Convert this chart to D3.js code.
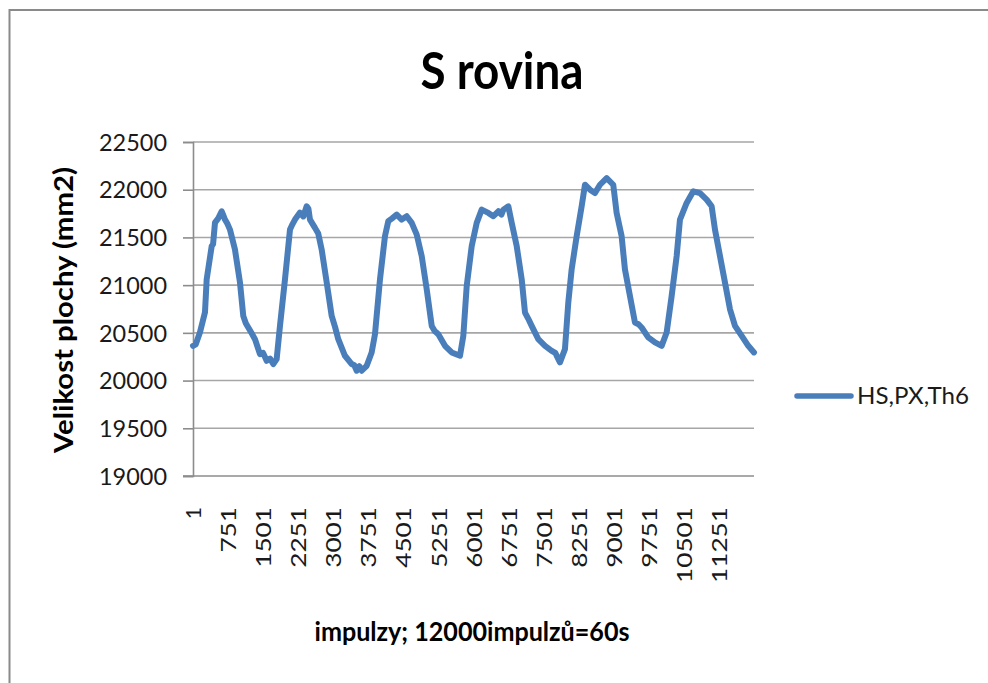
<!DOCTYPE html>
<html>
<head>
<meta charset="utf-8">
<script src="https://cdn.jsdelivr.net/npm/d3@7/dist/d3.min.js"></script>
<style>
  html, body { margin: 0; padding: 0; background: #ffffff; }
  svg { display: block; }
</style>
</head>
<body>
<script>
// ---- data (sample index -> area in mm2) ----
const title = "S rovina";
const yAxisTitle = "Velikost plochy (mm2)";
const xAxisTitle = "impulzy; 12000impulzů=60s";
const seriesName = "HS,PX,Th6";
const sampleCount = 12000;
const xTickLabels = [1, 751, 1501, 2251, 3001, 3751, 4501, 5251, 6001, 6751, 7501, 8251, 9001, 9751, 10501, 11251];
const yTickValues = [19000, 19500, 20000, 20500, 21000, 21500, 22000, 22500];

const sampleIndex = [
  1, 60, 150, 257, 293, 400, 430, 471, 540, 614, 650, 684, 740, 791, 898, 1005, 1076, 1130, 1183, 1250, 1326, 1433, 1500, 1576, 1650, 1718, 1790,
  1861, 1968, 2075, 2130, 2182, 2289, 2360, 2432, 2470, 2503, 2610, 2680, 2753, 2860, 2967, 3040, 3108, 3251, 3395, 3450, 3502, 3560, 3609, 3716,
  3822, 3893, 4000, 4107, 4178, 4260, 4358, 4465, 4572, 4679, 4786, 4893, 5000, 5107, 5170, 5248, 5391, 5534, 5712,
  5783, 5855, 5962, 6069, 6176, 6318, 6425, 6532, 6600, 6639, 6746, 6818, 6925, 7032, 7102, 7170, 7245, 7386, 7530,
  7673, 7750, 7850, 7957, 8028, 8100, 8207, 8314, 8385, 8492, 8599, 8706, 8849, 8990, 9062, 9169, 9240, 9347,
  9454, 9530, 9597, 9738, 9882, 10025, 10132, 10239, 10346, 10417, 10560, 10702, 10845, 10988, 11095, 11166,
  11273, 11380, 11487, 11594, 11737, 11878, 12000
];
const areaValues = [
  20364, 20380, 20507, 20716, 21060, 21408, 21430, 21655, 21700, 21774, 21730, 21687, 21640, 21582, 21373, 21029, 20677, 20600, 20556, 20500, 20434, 20277, 20290, 20207, 20230, 20173, 20225,
  20573, 21060, 21582, 21640, 21687, 21760, 21720, 21826, 21800, 21687, 21600, 21540, 21373, 21029, 20677, 20560, 20434, 20260, 20173, 20160, 20103, 20150, 20103, 20155,
  20295, 20486, 21060, 21513, 21670, 21700, 21740, 21687, 21722, 21652, 21530, 21304, 20956, 20573, 20520, 20486, 20364, 20295, 20260,
  20469, 20990, 21408, 21652, 21791, 21757, 21722, 21774, 21740, 21791, 21826, 21652, 21408, 21060, 20713, 20650, 20573, 20434, 20364,
  20312, 20290, 20191, 20330, 20817, 21165, 21513, 21826, 22052, 22000, 21965, 22052, 22122, 22052, 21757, 21513, 21165, 20886,
  20608, 20590, 20556, 20452, 20400, 20364, 20504, 20886, 21304, 21687, 21861, 21983, 21965, 21896, 21826, 21582,
  21304, 21026, 20747, 20573, 20469, 20364, 20295
];

// ---- layout ----
const W = 988, H = 683;
const plot = { left: 193, right: 754, top: 142, bottom: 476 };
const FONT = "Lato, 'Open Sans', sans-serif";

const svg = d3.select("body").append("svg").attr("width", W).attr("height", H);

// outer chart border
svg.append("rect")
  .attr("x", 9.5).attr("y", 10).attr("width", 1100).attr("height", 800)
  .attr("fill", "none").attr("stroke", "#8a8a8a").attr("stroke-width", 2);

const x = d3.scaleLinear().domain([0.5, sampleCount + 0.5]).range([plot.left, plot.right]);
const y = d3.scaleLinear().domain([19000, 22500]).range([plot.bottom, plot.top]);

// gridlines
svg.append("g").selectAll("line").data(yTickValues.filter(v => v !== 19000)).join("line")
  .attr("x1", plot.left).attr("x2", plot.right)
  .attr("y1", d => y(d)).attr("y2", d => y(d))
  .attr("stroke", "#a6a6a6").attr("stroke-width", 1.6);

// y axis
const yAxis = d3.axisLeft(y).tickValues(yTickValues).tickSize(10).tickPadding(16).tickFormat(d3.format("d"));
const gy = svg.append("g").attr("transform", `translate(${plot.left},0)`).call(yAxis);
gy.select(".domain").attr("stroke", "#8c8c8c").attr("stroke-width", 1.6);
gy.selectAll(".tick line").attr("stroke", "#8c8c8c").attr("stroke-width", 1.6);
gy.selectAll(".tick text")
  .attr("font-family", FONT).attr("font-size", 23).attr("fill", "#1a1a1a")
  .attr("x", -26).attr("dy", "0.36em")
  .attr("textLength", d => String(d).length * 13.6).attr("lengthAdjust", "spacingAndGlyphs");

// x axis line
const xAxis = d3.axisBottom(x).tickValues(xTickLabels).tickSize(0).tickPadding(0).tickFormat(d3.format("d"));
const gx = svg.append("g").attr("transform", `translate(0,${plot.bottom})`).call(xAxis);
gx.select(".domain").attr("stroke", "#8c8c8c").attr("stroke-width", 1.6)
  .attr("d", `M${plot.left - 10},0H${plot.right}`);
gx.selectAll(".tick text")
  .attr("font-family", FONT).attr("font-size", 21).attr("fill", "#1a1a1a")
  .attr("text-anchor", "end")
  .attr("transform", "translate(0,31) rotate(-90)")
  .attr("x", 0).attr("y", 0).attr("dy", "0.36em")
  .each(function(d) {
    const n = String(d).length;
    if (n > 1) d3.select(this).attr("textLength", n * 15.2).attr("lengthAdjust", "spacingAndGlyphs");
  });

// series line
const pts = sampleIndex.map((s, i) => [s, areaValues[i]]);
const line = d3.line().x(d => x(d[0])).y(d => y(d[1])).curve(d3.curveLinear);
svg.append("path").datum(pts)
  .attr("d", line)
  .attr("fill", "none").attr("stroke", "#4a7ebb").attr("stroke-width", 6)
  .attr("stroke-linejoin", "round").attr("stroke-linecap", "round");

// title
svg.append("text").attr("x", 502).attr("y", 88.5)
  .attr("text-anchor", "middle").attr("font-family", FONT).attr("font-weight", 700)
  .attr("font-size", 51).attr("fill", "#000")
  .attr("textLength", 163).attr("lengthAdjust", "spacingAndGlyphs")
  .text(title);

// y axis title
svg.append("text").attr("transform", "translate(73,310) rotate(-90)")
  .attr("text-anchor", "middle").attr("font-family", FONT).attr("font-weight", 700)
  .attr("font-size", 27).attr("fill", "#000")
  .attr("textLength", 286).attr("lengthAdjust", "spacingAndGlyphs")
  .text(yAxisTitle);

// x axis title
svg.append("text").attr("x", 472).attr("y", 641)
  .attr("text-anchor", "middle").attr("font-family", FONT).attr("font-weight", 700)
  .attr("font-size", 26).attr("fill", "#000")
  .attr("textLength", 315).attr("lengthAdjust", "spacingAndGlyphs")
  .text(xAxisTitle);

// legend
const lg = svg.append("g");
lg.append("line").attr("x1", 797).attr("x2", 851).attr("y1", 396).attr("y2", 396)
  .attr("stroke", "#4a7ebb").attr("stroke-width", 5.5).attr("stroke-linecap", "round");
lg.append("text").attr("x", 857).attr("y", 404)
  .attr("font-family", FONT).attr("font-size", 23).attr("fill", "#1a1a1a")
  .attr("textLength", 112).attr("lengthAdjust", "spacingAndGlyphs")
  .text(seriesName);
</script>
</body>
</html>
